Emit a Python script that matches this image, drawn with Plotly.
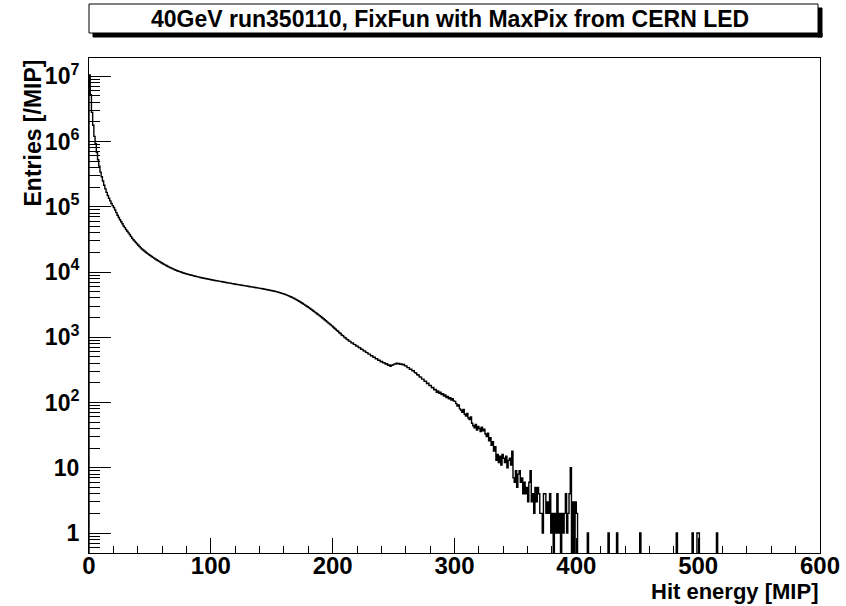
import numpy as np
import plotly.graph_objects as go

# Hit-energy spectrum, 1 MIP wide bins from 0 to 600 MIP (entries per bin)
counts_0_99 = [
    10500000, 5200000, 2800000, 1780000, 1200000, 930000, 680000, 525000, 420000, 340000,
    288000, 248000, 214000, 188000, 166000, 149000, 135000, 123000, 112000, 104000,
    97700, 89100, 81300, 74100, 68400, 63100, 58900, 55000, 50700, 47900,
    44700, 42200, 39800, 37600, 35200, 32900, 31260, 29790, 28380, 27040,
    25760, 24550, 23440, 22590, 21780, 20990, 20280, 19590, 18970, 18370,
    17820, 17300, 16790, 16310, 15850, 15420, 15000, 14590, 14220, 13870,
    13520, 13180, 12850, 12560, 12270, 11990, 11750, 11510, 11270, 11070,
    10860, 10660, 10470, 10300, 10140, 9980, 9820, 9680, 9550, 9430,
    9310, 9190, 9090, 9020, 8910, 8810, 8710, 8610, 8510, 8420,
    8340, 8250, 8170, 8090, 8020, 7940, 7870, 7800, 7730, 7670,
]
counts_100_199 = [
    7600, 7540, 7480, 7420, 7365, 7310, 7250, 7190, 7140, 7080,
    7030, 6970, 6920, 6865, 6810, 6760, 6710, 6650, 6600, 6550,
    6500, 6450, 6400, 6360, 6310, 6270, 6220, 6180, 6130, 6090,
    6050, 6000, 5960, 5920, 5875, 5830, 5790, 5750, 5710, 5670,
    5620, 5580, 5534, 5490, 5445, 5400, 5354, 5308, 5260, 5212,
    5164, 5114, 5063, 5010, 4955, 4898, 4839, 4777, 4713, 4645,
    4576, 4504, 4429, 4351, 4271, 4188, 4103, 4016, 3928, 3837,
    3746, 3654, 3561, 3469, 3377, 3285, 3194, 3104, 3015, 2928,
    2842, 2757, 2673, 2591, 2508, 2429, 2351, 2276, 2203, 2132,
    2064, 1991, 1920, 1852, 1787, 1724, 1663, 1605, 1548, 1494,
]
counts_200_299 = [
    1435, 1372, 1330, 1268, 1235, 1170, 1140, 1085, 1060, 1005,
    985, 935, 918, 874, 866, 821, 818, 778, 772, 733,
    731, 697, 690, 655, 652, 618, 616, 586, 582, 551,
    552, 522, 523, 494, 496, 468, 470, 445, 444, 422,
    425, 406, 408, 389, 392, 372, 375, 358, 373, 376,
    388, 390, 402, 393, 397, 386, 391, 380, 384, 365,
    362, 343, 342, 324, 325, 306, 308, 287, 284, 266,
    264, 246, 245, 228, 228, 211, 213, 196, 197, 182,
    183, 168, 170, 156, 158, 144, 150, 139, 144, 132,
    137, 126, 131, 119, 124, 114, 119, 109, 114, 106,
]
counts_300_404 = [
    104, 96, 88, 92, 80, 76, 71, 78, 66, 62,
    68, 58, 55, 60, 48, 44, 41, 46, 38, 43,
    40, 36, 42, 37, 39, 33, 30, 34, 26, 29,
    22, 25, 18, 21, 13, 16, 12, 15, 11, 16,
    14, 12, 15, 10, 13, 14, 11, 18, 7, 6,
    9, 5, 8, 9, 6, 7, 4, 6, 4, 5,
    3, 6, 9, 3, 4, 2, 5, 3, 5, 4,
    2, 2, 1, 4, 4, 2, 3, 2, 4, 1,
    2, 0, 2, 1, 4, 1, 2, 0, 2, 1,
    2, 4, 1, 2, 4, 10, 0, 3, 0, 3,
    2, 0, 0, 0, 0,
]
# isolated single entries further out
tail_bins = [409, 426, 433, 452, 482, 495, 499, 500, 515]
tail_counts = [1, 1, 1, 1, 1, 1, 1, 1, 1]

x_ticks = [0, 100, 200, 300, 400, 500, 600]
y_ticks = [1, 10, 100, 1e3, 1e4, 1e5, 1e6, 1e7]
y_ticktext = ["1", "10", "10<sup>2</sup>", "10<sup>3</sup>", "10<sup>4</sup>",
              "10<sup>5</sup>", "10<sup>6</sup>", "10<sup>7</sup>"]

n_bins = 600
x_min, x_max = 0.0, 600.0
bin_w = (x_max - x_min) / n_bins

counts = np.zeros(n_bins)
main = counts_0_99 + counts_100_199 + counts_200_299 + counts_300_404
counts[:len(main)] = main
for b, c in zip(tail_bins, tail_counts):
    counts[b] = c

# step outline; empty bins drop below the frame like a log-scale histogram
edges = x_min + np.arange(n_bins + 1) * bin_w
floor = 0.05
y_draw = np.where(counts > 0, counts, floor)
xs = np.concatenate([[edges[0]], edges[:-1], [edges[-1]]])
ys = np.concatenate([[floor], y_draw, [y_draw[-1]]])

FONT = "Liberation Sans, Arial, Helvetica, sans-serif"

fig = go.Figure()
fig.add_trace(go.Scatter(
    x=xs, y=ys, mode="lines",
    line=dict(shape="hv", color="black", width=1.4),
    hoverinfo="skip", showlegend=False,
))

# minor ticks on the log axis: 2..9 per decade, plus those below 1
minor_y = [m * 10.0 ** d for d in range(-1, 7) for m in range(2, 10)]
minor_y = [v for v in minor_y if 0.494 < v < 1.9e7 and v not in y_ticks]

fig.update_layout(
    width=846, height=606,
    margin=dict(l=89, r=26, t=58, b=53, autoexpand=False),
    paper_bgcolor="white", plot_bgcolor="white",
    showlegend=False,
    xaxis=dict(
        range=[x_min, x_max], showgrid=False, zeroline=False, automargin=False,
        showline=True, linecolor="black", linewidth=1, mirror=True,
        ticks="inside", ticklen=15, tickwidth=1, tickcolor="black",
        tickmode="array", tickvals=x_ticks,
        tickfont=dict(family=FONT, size=24, color="black", weight="bold"),
        ticklabelstandoff=-9,
        minor=dict(ticks="inside", ticklen=7, tickwidth=1, tickcolor="black",
                   dtick=20, showgrid=False),
    ),
    yaxis=dict(
        type="log", range=[np.log10(0.494), 7.28],
        showgrid=False, zeroline=False, automargin=False,
        showline=True, linecolor="black", linewidth=1, mirror=True,
        ticks="inside", ticklen=22, tickwidth=1, tickcolor="black",
        tickmode="array", tickvals=y_ticks, ticktext=y_ticktext,
        tickfont=dict(family=FONT, size=23, color="black", weight="bold"),
        ticklabelstandoff=4,
        minor=dict(ticks="inside", ticklen=11, tickwidth=1, tickcolor="black",
                   tickmode="array", tickvals=minor_y, showgrid=False),
    ),
)

# title box with a drop shadow along its bottom and right edges
px_x = lambda p: (p - 89) / 731
px_y = lambda p: (553 - p) / 495
fig.add_shape(type="rect", xref="paper", yref="paper", layer="above",
              x0=px_x(93), x1=px_x(822), y0=px_y(37), y1=px_y(33),
              fillcolor="black", line=dict(color="black", width=1))
fig.add_shape(type="rect", xref="paper", yref="paper", layer="above",
              x0=px_x(818), x1=px_x(822), y0=px_y(37), y1=px_y(8),
              fillcolor="black", line=dict(color="black", width=1))
fig.add_shape(type="rect", xref="paper", yref="paper", layer="above",
              x0=px_x(89), x1=px_x(818), y0=px_y(33), y1=px_y(4),
              fillcolor="white", line=dict(color="black", width=1))

fig.add_annotation(
    text="40GeV run350110, FixFun with MaxPix from CERN LED",
    xref="paper", yref="paper", x=px_x(450), y=px_y(18.5),
    xanchor="center", yanchor="middle", showarrow=False,
    font=dict(family=FONT, size=23, color="black", weight="bold"),
)
fig.add_annotation(
    text="Hit energy [MIP]", xref="paper", yref="paper",
    x=1.0, y=px_y(591), xanchor="right", yanchor="middle", showarrow=False,
    font=dict(family=FONT, size=22, color="black", weight="bold"),
)
fig.add_annotation(
    text="Entries [/MIP]", xref="paper", yref="paper", textangle=-90,
    x=px_x(32), y=1.0, xanchor="center", yanchor="top", showarrow=False,
    font=dict(family=FONT, size=23, color="black", weight="bold"),
)

fig.write_html("out.html")
